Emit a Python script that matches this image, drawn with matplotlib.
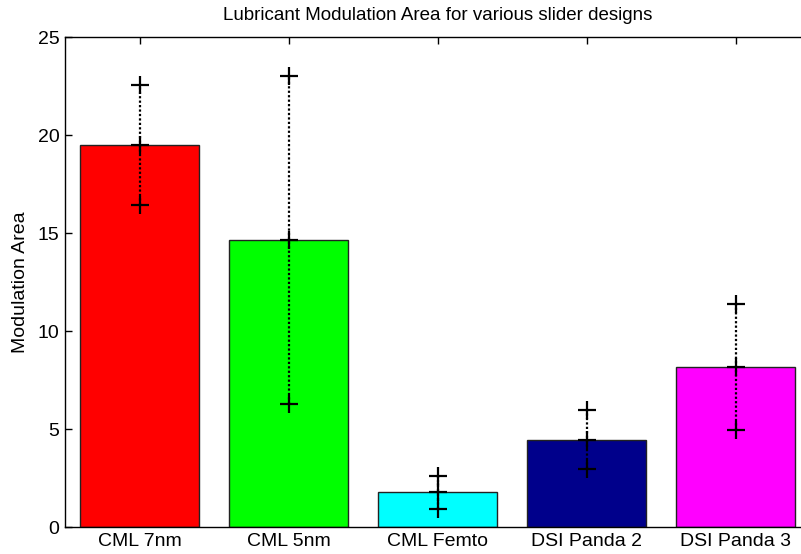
import numpy as np
import matplotlib
matplotlib.use('Agg')
import matplotlib.pyplot as plt

# data
designs = ['CML 7nm', 'CML 5nm', 'CML Femto', 'DSI Panda 2', 'DSI Panda 3']
mean_area = [19.5, 14.63, 1.78, 4.45, 8.15]
err_area = [3.07, 8.37, 0.84, 1.5, 3.22]
bar_colors = ['#ff0000', '#00ff00', '#00ffff', '#00008b', '#ff00ff']
y_ticks = [0, 5, 10, 15, 20, 25]

plt.rcParams['font.family'] = ['Liberation Sans', 'DejaVu Sans']

fig = plt.figure(figsize=(8.01, 5.54), dpi=100)
ax = fig.add_axes([65/801, 27/554, 745/801, 490/554])

x = np.arange(1, len(designs) + 1)
mean_area = np.array(mean_area)
err_area = np.array(err_area)

ax.bar(x, mean_area, width=0.8, color=bar_colors, edgecolor='#222222', linewidth=1.0, zorder=2)

# dotted error line with + markers at low, mean and high
ax.vlines(x, mean_area - err_area, mean_area + err_area, colors='k',
          linestyles=(0, (1, 1)), linewidth=1.6, zorder=3)
for yy in [mean_area - err_area, mean_area, mean_area + err_area]:
    ax.plot(x, yy, linestyle='none', marker='+', markersize=13, markeredgewidth=1.6,
            color='k', zorder=4)

ax.set_xlim(0.5, 5.5)
ax.set_ylim(0, 25)
ax.set_xticks(x)
ax.set_xticklabels(designs, fontsize=14)
ax.set_yticks(y_ticks)
ax.tick_params(axis='y', labelsize=14)
ax.tick_params(direction='in', length=5, width=1, top=True, right=True, bottom=False, pad=4)
for s in ax.spines.values():
    s.set_linewidth(1.0)

ax.set_ylabel('Modulation Area', fontsize=14, labelpad=6)
ax.set_title('Lubricant Modulation Area for various slider designs', fontsize=13.5, pad=12)

fig.savefig('out.png', dpi=100)
